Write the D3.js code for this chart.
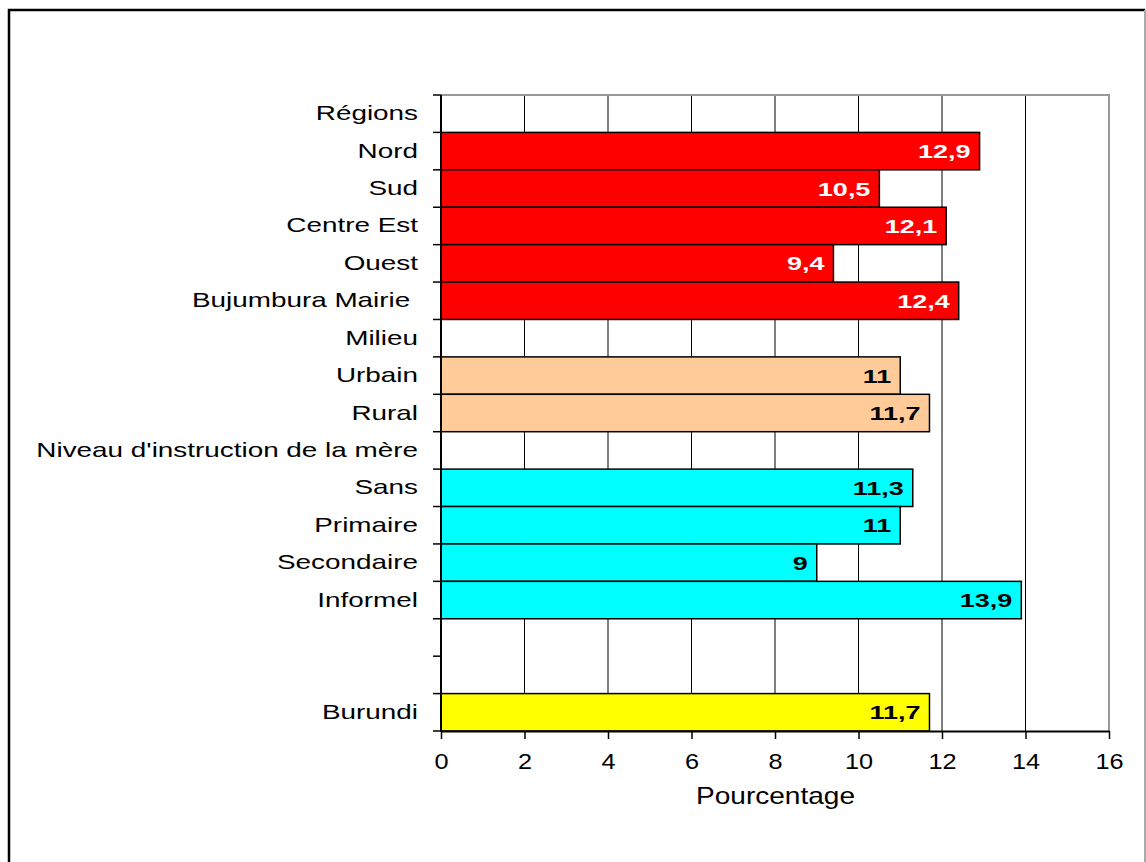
<!DOCTYPE html>
<html>
<head>
<meta charset="utf-8">
<script src="https://cdn.jsdelivr.net/npm/d3@7"></script>
<style>
  body { margin: 0; background: #fff; }
  svg text { font-family: "Liberation Sans", Arial, sans-serif; }
</style>
</head>
<body>
<svg id="svg"></svg>
<script>
// rows from top to bottom; headers and spacer rows carry no value
const categories = ['Régions','Nord','Sud','Centre Est','Ouest','Bujumbura Mairie ','Milieu',
  'Urbain','Rural',"Niveau d'instruction de la mère",'Sans','Primaire','Secondaire','Informel',
  ' ','  ','Burundi'];
const values = [null,12.9,10.5,12.1,9.4,12.4,null,11,11.7,null,11.3,11,9,13.9,null,null,11.7];
const groups = [null,'reg','reg','reg','reg','reg',null,'mil','mil',null,'ins','ins','ins','ins',null,null,'bdi'];
const xTicks = [0,2,4,6,8,10,12,14,16];

const colors = {reg:'#ff0000', mil:'#ffcc99', ins:'#00ffff', bdi:'#ffff00'};
const labelColors = {reg:'#ffffff', mil:'#000000', ins:'#000000', bdi:'#000000'};

const W = 1146, H = 862;
const m = {left: 441, right: 37, top: 95, bottom: 131};
const svg = d3.select('#svg').attr('width', W).attr('height', H);

// outer frame (cropped at right/bottom in the original)
svg.append('path')
  .attr('d', `M9,${H}V10H${W - 1}`)
  .attr('fill', 'none').attr('stroke', '#000').attr('stroke-width', 2.5);
svg.append('line')
  .attr('x1', W - 1).attr('x2', W - 1).attr('y1', 10).attr('y2', H)
  .attr('stroke', '#aaa').attr('stroke-width', 2);

const x = d3.scaleLinear().domain([0, 16]).range([m.left, W - m.right]);
const y = d3.scaleBand().domain(d3.range(categories.length)).range([m.top, H - m.bottom]);

// stretched text helper: the original glyphs are wider than Arial
function wideText(sel, sx) {
  sel.attr('transform', function() {
    const tx = +this.getAttribute('data-x'), ty = +this.getAttribute('data-y');
    return `translate(${tx},${ty}) scale(${sx},1)`;
  });
}

// grid
svg.append('g').selectAll('line')
  .data(xTicks.slice(1, -1))
  .enter().append('line')
  .attr('x1', d => x(d)).attr('x2', d => x(d))
  .attr('y1', m.top).attr('y2', H - m.bottom)
  .attr('stroke', '#000').attr('stroke-width', 1);

// plot frame top / right (grey)
svg.append('path')
  .attr('d', `M${x(0)},${m.top}H${x(16)}V${H - m.bottom}`)
  .attr('fill', 'none').attr('stroke', '#999').attr('stroke-width', 2);

const data = categories.map((c, i) => ({c, i, v: values[i], g: groups[i]}));

const bars = svg.append('g').selectAll('g')
  .data(data.filter(d => d.v !== null))
  .enter().append('g');

bars.append('rect')
  .attr('x', x(0))
  .attr('y', d => y(d.i))
  .attr('width', d => x(d.v) - x(0))
  .attr('height', y.bandwidth())
  .attr('fill', d => colors[d.g])
  .attr('stroke', '#000').attr('stroke-width', 1.5);

bars.append('text')
  .attr('data-x', d => x(d.v) - 9)
  .attr('data-y', d => y(d.i) + y.bandwidth() / 2 + 7)
  .attr('text-anchor', 'end')
  .style('font-size', '19px').style('font-weight', 'bold')
  .attr('fill', d => labelColors[d.g])
  .text(d => String(d.v).replace('.', ','))
  .call(wideText, 1.42);

// left axis with ticks at band boundaries
const yAxis = svg.append('g');
yAxis.append('line')
  .attr('x1', x(0)).attr('x2', x(0)).attr('y1', m.top).attr('y2', H - m.bottom)
  .attr('stroke', '#000').attr('stroke-width', 2);
yAxis.selectAll('.tk')
  .data(d3.range(categories.length + 1))
  .enter().append('line')
  .attr('x1', x(0) - 8).attr('x2', x(0))
  .attr('y1', i => m.top + i * y.step()).attr('y2', i => m.top + i * y.step())
  .attr('stroke', '#000').attr('stroke-width', 1.5);
yAxis.selectAll('text')
  .data(data)
  .enter().append('text')
  .attr('data-x', 418)
  .attr('data-y', d => y(d.i) + y.bandwidth() / 2 + 6.5)
  .attr('text-anchor', 'end')
  .style('font-size', '20.5px')
  .style('white-space', 'pre')
  .attr('fill', '#000')
  .text(d => d.c)
  .call(wideText, 1.36);

// bottom axis
const xAxis = svg.append('g').attr('transform', `translate(0,${H - m.bottom})`)
  .call(d3.axisBottom(x).tickValues(xTicks).tickSize(8).tickPadding(10).tickSizeOuter(0));
xAxis.select('.domain').attr('stroke', '#000').attr('stroke-width', 2);
xAxis.selectAll('.tick line').attr('stroke', '#000').attr('stroke-width', 1.5);
xAxis.selectAll('.tick text').remove();
xAxis.selectAll('.tick').append('text')
  .attr('data-x', 0).attr('data-y', 38)
  .attr('text-anchor', 'middle')
  .style('font-size', '22px')
  .style('font-family', '"Liberation Sans", Arial, sans-serif')
  .attr('fill', '#000')
  .text(d => d)
  .call(wideText, 1.15);

svg.append('text')
  .attr('data-x', (x(0) + x(16)) / 2 + 0.5).attr('data-y', 804)
  .attr('text-anchor', 'middle')
  .style('font-size', '23px')
  .text('Pourcentage')
  .call(wideText, 1.22);
</script>
</body>
</html>
